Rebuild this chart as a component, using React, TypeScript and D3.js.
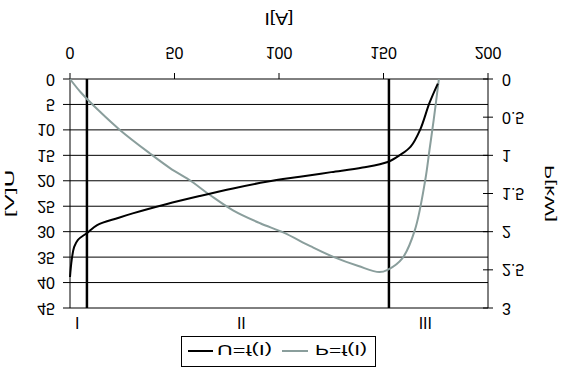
import * as d3 from "d3";

// measured points, U=f(I)
const uCurrent = [0, 0.8, 2, 3.8, 8, 13, 23, 30, 46, 62, 78, 94, 110, 125, 140, 152, 158, 163, 167.5, 172, 176];
const uVoltage = [38.9, 35.6, 33, 31.6, 30.3, 28.7, 27.3, 26.4, 24.6, 23.0, 21.5, 20.2, 19.2, 18.3, 17.4, 16.3, 14.9, 13.3, 10, 4.7, 0.9];

// measured points, P=f(I)
const pCurrent = [0, 5, 14, 24, 38, 48, 57, 67, 78, 91, 102, 115, 126, 138, 148, 152, 159, 165, 170, 172, 174, 176.5];
const pPower = [0, 0.17, 0.42, 0.67, 0.97, 1.17, 1.32, 1.52, 1.72, 1.89, 2.01, 2.19, 2.33, 2.45, 2.53, 2.5, 2.35, 1.98, 1.32, 0.93, 0.54, 0];

const iTicks = [0, 50, 100, 150, 200];
const uTicks = [0, 5, 10, 15, 20, 25, 30, 35, 40, 45];
const pTicks = [0, 0.5, 1, 1.5, 2, 2.5, 3];
const pTickLabels = ["0", "0.5", "1", "1.5", "2", "2.5", "3"];

const regionBounds = [8.1, 152.6];
const regionNames = ["I", "II", "III"];
const regionLabelAt = [3.5, 82, 170];

const W = 567;
const H = 370;
const GRAY = "#8a9e9c";
const FONT = "'Liberation Sans', Arial, sans-serif";

export default function App() {
  const x = d3.scaleLinear().domain([0, 200]).range([70, 488]);
  const yU = d3.scaleLinear().domain([0, 45]).range([291, 62]);
  const yP = d3.scaleLinear().domain([0, 3]).range([291, 62]);

  const uLine = d3
    .line<number>()
    .x((_, i) => x(uCurrent[i]))
    .y((d) => yU(d))
    .curve(d3.curveCatmullRom.alpha(0.5));

  const pLine = d3
    .line<number>()
    .x((_, i) => x(pCurrent[i]))
    .y((d) => yP(d))
    .curve(d3.curveCatmullRom.alpha(0.5));

  const [x0, x1] = x.range();
  const [yb, yt] = yU.range();

  return (
    <svg
      width={W}
      height={H}
      style={{ position: "absolute", left: 0, top: 0, background: "#fff" }}
      fontFamily={FONT}
    >
      {/* whole chart is drawn upright, then mirrored top to bottom */}
      <g transform={`translate(0,${H}) scale(1,-1)`}>
        {uTicks.map((t) => (
          <line key={"g" + t} x1={x0} x2={x1} y1={yU(t)} y2={yU(t)} stroke="#000" strokeWidth={1} />
        ))}
        <line x1={x0} x2={x0} y1={yb} y2={yt} stroke="#000" />
        <line x1={x1} x2={x1} y1={yb} y2={yt} stroke="#000" />

        {/* left axis */}
        {uTicks.map((t) => (
          <g key={"u" + t}>
            <line x1={x0 - 7} x2={x0} y1={yU(t)} y2={yU(t)} stroke="#000" />
            <text x={x0 - 15} y={yU(t)} textAnchor="end" dominantBaseline="central" fontSize={16}>
              {t}
            </text>
          </g>
        ))}

        {/* right axis */}
        {pTicks.map((t, i) => (
          <g key={"p" + t}>
            <line x1={x1 - 5} x2={x1 + 5} y1={yP(t)} y2={yP(t)} stroke="#000" />
            <text x={x1 + 14} y={yP(t)} dominantBaseline="central" fontSize={16}>
              {pTickLabels[i]}
            </text>
          </g>
        ))}

        {/* current axis */}
        {iTicks.map((t) => (
          <g key={"i" + t}>
            <line x1={x(t)} x2={x(t)} y1={yb} y2={yb + 6} stroke="#000" />
            <text x={x(t)} y={318} textAnchor="middle" dominantBaseline="central" fontSize={16}>
              {t}
            </text>
          </g>
        ))}

        <text x={(x0 + x1) / 2} y={352} textAnchor="middle" dominantBaseline="central" fontSize={17} textLength={29} lengthAdjust="spacingAndGlyphs">
          I[A]
        </text>
        <text transform={`translate(9,${(yb + yt) / 2}) rotate(-90)`} textAnchor="middle" dominantBaseline="central" fontSize={13} textLength={48} lengthAdjust="spacingAndGlyphs">
          U[V]
        </text>
        <text transform={`translate(549,${(yb + yt) / 2}) rotate(-90)`} textAnchor="middle" dominantBaseline="central" fontSize={13} textLength={57} lengthAdjust="spacingAndGlyphs">
          P[kW]
        </text>

        {/* operating regions */}
        {regionBounds.map((b) => (
          <line key={"r" + b} x1={x(b)} x2={x(b)} y1={yb} y2={yt} stroke="#000" strokeWidth={2.5} />
        ))}
        {regionNames.map((n, i) => (
          <text key={n} x={x(regionLabelAt[i])} y={47.5} textAnchor="middle" dominantBaseline="central" fontSize={16}>
            {n}
          </text>
        ))}

        <path d={pLine(pPower) ?? ""} fill="none" stroke={GRAY} strokeWidth={2} />
        <path d={uLine(uVoltage) ?? ""} fill="none" stroke="#000" strokeWidth={2} />

        {/* legend */}
        <rect x={181.5} y={3.5} width={194} height={30} fill="#fff" stroke="#000" />
        <line x1={188} x2={213} y1={19} y2={19} stroke="#000" strokeWidth={2} />
        <text x={217} y={19.5} dominantBaseline="central" fontSize={15} textLength={55} lengthAdjust="spacingAndGlyphs">
          U=f(I)
        </text>
        <line x1={282} x2={308} y1={19} y2={19} stroke={GRAY} strokeWidth={2} />
        <text x={315} y={19.5} dominantBaseline="central" fontSize={15} textLength={52} lengthAdjust="spacingAndGlyphs">
          P=f(I)
        </text>
      </g>
    </svg>
  );
}
